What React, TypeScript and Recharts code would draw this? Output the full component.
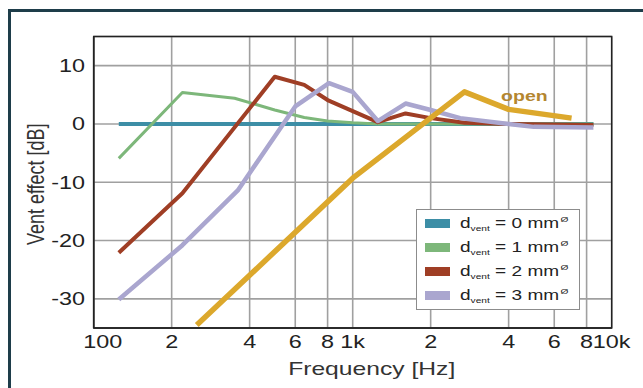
import { LineChart, Line, XAxis, YAxis, CartesianGrid, Legend, ReferenceArea, ReferenceDot } from 'recharts';

// x axis (log) and y axis ticks
const freqTicks = [100, 200, 400, 600, 800, 1000, 2000, 4000, 6000, 8000, 10000];
const freqTickLabels = ['100', '2', '4', '6', '8', '1k', '2', '4', '6', '8', '10k'];
const dbTicks = [-30, -20, -10, 0, 10];

// vent diameter series
const freq0 = [125, 8500];
const vent0 = [0, 0];

const freq1 = [125, 220, 350, 500, 650, 800, 1000, 1250, 8500];
const vent1 = [-5.9, 5.4, 4.4, 2.4, 1.1, 0.5, 0.2, 0, 0];

const freq2 = [125, 220, 500, 650, 800, 1250, 1600, 2000, 2700, 4000, 8500];
const vent2 = [-22.1, -11.9, 8.1, 6.7, 4.1, 0.3, 1.8, 1.0, 0.2, 0, -0.2];

const freq3 = [125, 220, 360, 600, 810, 1000, 1250, 1600, 2000, 2600, 4000, 5000, 8500];
const vent3 = [-30.1, -20.8, -11.4, 3.0, 7.0, 5.5, 0.5, 3.5, 2.4, 1.0, 0, -0.5, -0.6];

const freqOpen = [250, 1000, 2700, 4000, 7000];
const ventOpen = [-34.5, -9.3, 5.5, 2.5, 1.0];

const legendSizes = ['0', '1', '2', '3'];

const toPoints = (f: number[], v: number[]) => f.map((x, i) => ({ f: x, v: v[i] }));

const series = [
  { name: 'd0', data: toPoints(freq0, vent0), color: '#3d8ea6', width: 4 },
  { name: 'd1', data: toPoints(freq1, vent1), color: '#7db77a', width: 3 },
  { name: 'd2', data: toPoints(freq2, vent2), color: '#9f3e25', width: 4 },
  { name: 'd3', data: toPoints(freq3, vent3), color: '#aaa6cf', width: 4.5 },
  { name: 'open', data: toPoints(freqOpen, ventOpen), color: '#dca82c', width: 5.5 },
];

const W = 643;
const H = 388;
const PLOT_LEFT = 93.7;
const PLOT_RIGHT = 611.7;
const PLOT_TOP = 36.5;
const PLOT_BOTTOM = 328;
const FONT = '"Liberation Sans", Arial, sans-serif';
const STRETCH = 1.3;

function XTick({ x, index }: any) {
  const shift = index === 0 ? 9 : 0;
  return (
    <text
      transform={`translate(${x + shift},${PLOT_BOTTOM + 20}) scale(${STRETCH},1)`}
      textAnchor="middle"
      fontFamily={FONT}
      fontSize={18}
      fill="#222"
    >
      {freqTickLabels[index]}
    </text>
  );
}

function YTick({ y, payload }: any) {
  return (
    <text
      transform={`translate(${PLOT_LEFT - 8.7},${y}) scale(${STRETCH},1)`}
      textAnchor="end"
      dy="0.35em"
      fontFamily={FONT}
      fontSize={18}
      fill="#222"
    >
      {String(payload.value)}
    </text>
  );
}

function LegendBox() {
  const colors = series.slice(0, 4).map((s) => s.color);
  return (
    <div
      style={{
        width: 164,
        height: 101,
        boxSizing: 'border-box',
        border: '1.5px solid #8c8c8c',
        background: '#fff',
        position: 'relative',
      }}
    >
      {legendSizes.map((d, i) => {
        const cy = 13 + i * 24;
        return (
          <div key={d}>
            <div
              style={{
                position: 'absolute',
                left: 7.5,
                top: cy - 4.5,
                width: 25,
                height: 9,
                background: colors[i],
              }}
            />
            <div
              style={{
                position: 'absolute',
                left: 42.5,
                top: cy - 10,
                height: 20,
                lineHeight: '20px',
                whiteSpace: 'nowrap',
                fontFamily: FONT,
                fontSize: 15,
                color: '#222',
                transform: `scaleX(1.27)`,
                transformOrigin: 'left center',
              }}
            >
              d
              <span style={{ fontSize: 8, position: 'relative', top: 3 }}>vent</span>
              {` = ${d} mm`}
              <span style={{ fontSize: 8, position: 'relative', top: -6, marginLeft: 1 }}>Ø</span>
            </div>
          </div>
        );
      })}
    </div>
  );
}

export default function App() {
  return (
    <div
      style={{
        position: 'fixed',
        left: 0,
        top: 0,
        width: W,
        height: H,
        overflow: 'hidden',
        background: '#fff',
      }}
    >
      <div
        style={{
          position: 'absolute',
          left: 8,
          top: 9,
          width: 700,
          height: 500,
          borderLeft: '3px solid #1e3d4a',
          borderTop: '3px solid #1e3d4a',
        }}
      />
      <div style={{ position: 'absolute', left: 0, top: 0 }}>
        <LineChart
          width={W}
          height={H}
          margin={{ top: PLOT_TOP, right: W - PLOT_RIGHT, bottom: 0, left: 0 }}
        >
          <CartesianGrid stroke="#a0a0a0" strokeWidth={1.6} />
          <XAxis
            dataKey="f"
            type="number"
            scale="log"
            domain={[100, 10000]}
            ticks={freqTicks}
            interval={0}
            allowDataOverflow
            height={H - PLOT_BOTTOM}
            tickLine={false}
            tickSize={0}
            tickMargin={0}
            axisLine={{ stroke: '#222', strokeWidth: 1.5 }}
            tick={<XTick />}
            label={{
              content: () => (
                <text
                  transform={`translate(${(PLOT_LEFT + PLOT_RIGHT) / 2 + 19},375) scale(1.37,1)`}
                  textAnchor="middle"
                  fontFamily={FONT}
                  fontSize={18}
                  fill="#333"
                >
                  Frequency [Hz]
                </text>
              ),
            }}
          />
          {/* inward tick marks along the bottom and top edges */}
          <XAxis
            xAxisId="bottomTicks"
            dataKey="f"
            type="number"
            scale="log"
            domain={[100, 10000]}
            ticks={freqTicks}
            interval={0}
            allowDataOverflow
            height={0}
            mirror
            tick={false}
            tickSize={5}
            tickLine={{ stroke: '#222', strokeWidth: 1.5 }}
            axisLine={false}
          />
          <XAxis
            xAxisId="topTicks"
            orientation="top"
            dataKey="f"
            type="number"
            scale="log"
            domain={[100, 10000]}
            ticks={freqTicks}
            interval={0}
            allowDataOverflow
            height={0}
            mirror
            tick={false}
            tickSize={5}
            tickLine={{ stroke: '#222', strokeWidth: 1.5 }}
            axisLine={false}
          />
          <YAxis
            type="number"
            domain={[-35, 15]}
            ticks={dbTicks}
            interval={0}
            allowDataOverflow
            width={PLOT_LEFT}
            tickLine={false}
            tickSize={0}
            tickMargin={0}
            axisLine={{ stroke: '#222', strokeWidth: 1.5 }}
            tick={<YTick />}
            label={{
              content: () => (
                <text
                  transform={`translate(44,${(PLOT_TOP + PLOT_BOTTOM) / 2 + 2}) scale(1.3,1) rotate(-90)`}
                  textAnchor="middle"
                  fontFamily={FONT}
                  fontSize={18}
                  fill="#333"
                >
                  Vent effect [dB]
                </text>
              ),
            }}
          />
          <YAxis
            yAxisId="rightTicks"
            orientation="right"
            type="number"
            domain={[-35, 15]}
            ticks={dbTicks}
            interval={0}
            allowDataOverflow
            width={0}
            mirror
            tick={false}
            tickSize={5}
            tickLine={{ stroke: '#222', strokeWidth: 1.5 }}
            axisLine={false}
          />
          <ReferenceArea
            x1={100}
            x2={10000}
            y1={-35}
            y2={15}
            fill="none"
            fillOpacity={0}
            stroke="#222"
            strokeWidth={1.5}
          />
          {series.map((s) => (
            <Line
              key={s.name}
              name={s.name}
              data={s.data}
              dataKey="v"
              type="linear"
              stroke={s.color}
              strokeWidth={s.width}
              strokeLinejoin="round"
              dot={false}
              activeDot={false}
              isAnimationActive={false}
            />
          ))}
          <ReferenceDot
            x={4600}
            y={4.8}
            r={0}
            fill="none"
            stroke="none"
            label={{
              content: (p: any) => (
                <text
                  transform={`translate(${p.viewBox.x},${p.viewBox.y}) scale(1.3,1)`}
                  textAnchor="middle"
                  dy="0.35em"
                  fontFamily={FONT}
                  fontSize={15}
                  fontWeight="bold"
                  fill="#b4862f"
                >
                  open
                </text>
              ),
            }}
          />
          <Legend
            layout="vertical"
            align="center"
            verticalAlign="middle"
            content={<LegendBox />}
            wrapperStyle={{ left: 416, top: 209, width: 164, height: 101 }}
          />
        </LineChart>
      </div>
    </div>
  );
}
